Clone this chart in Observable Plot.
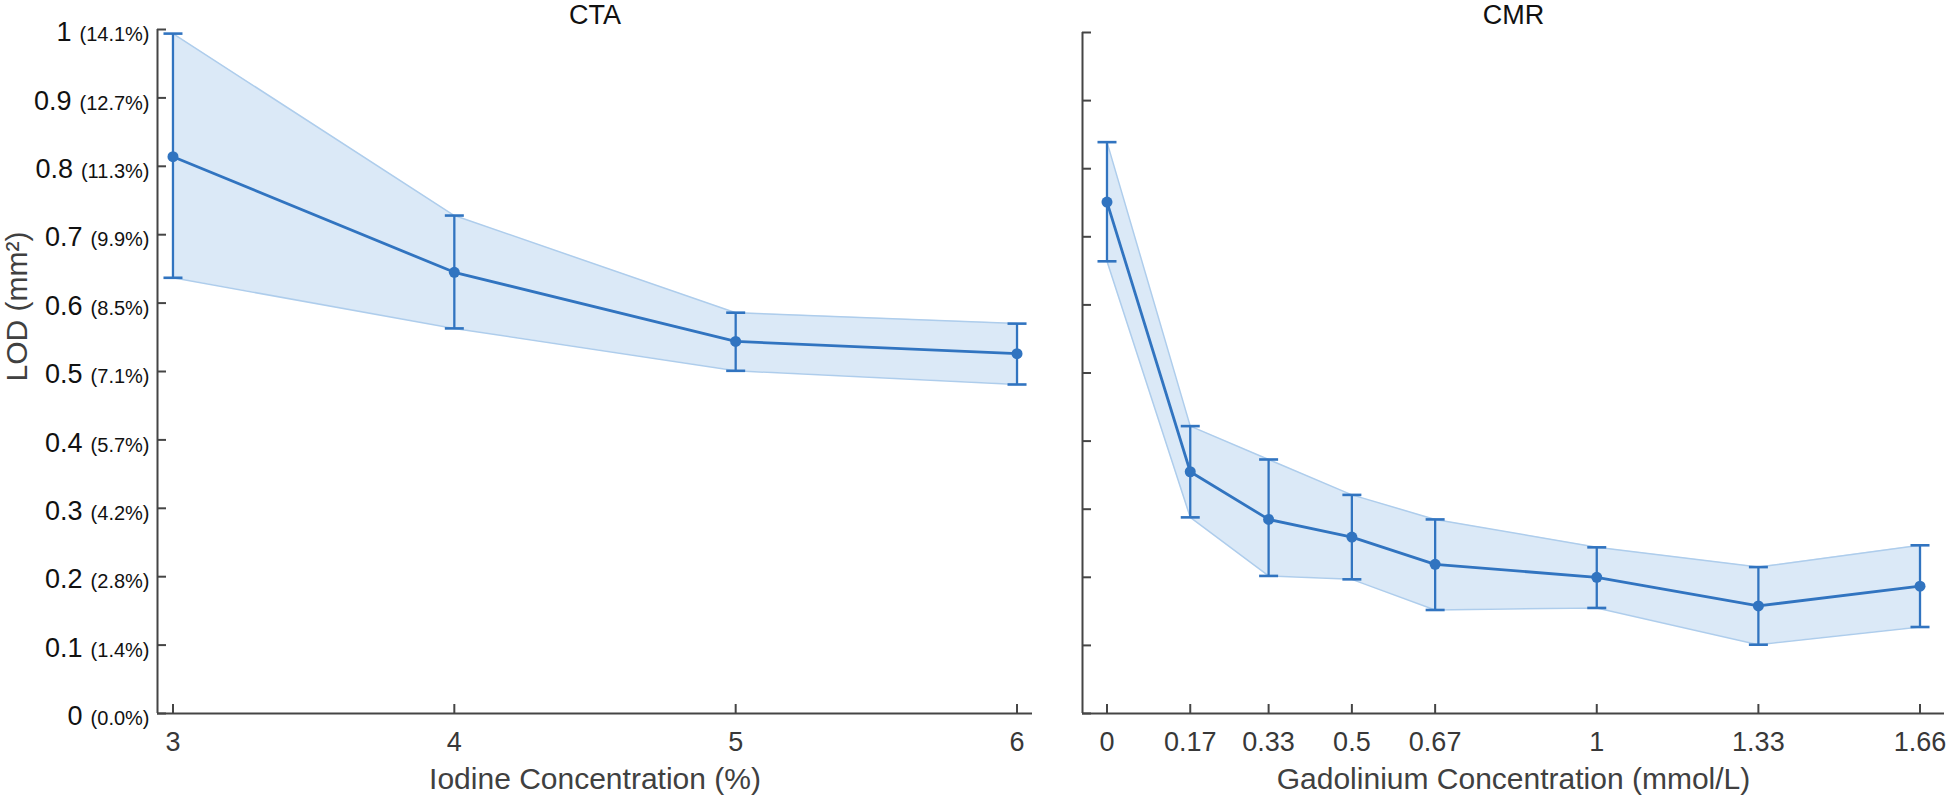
<!DOCTYPE html>
<html><head><meta charset="utf-8">
<script src="https://cdn.jsdelivr.net/npm/d3@7"></script>
<script src="https://cdn.jsdelivr.net/npm/@observablehq/plot@0.6"></script>
<style>
html,body{margin:0;padding:0;background:#fff;}
#wrap{display:flex;width:1946px;height:795px;overflow:hidden;}
#wrap svg{display:block;flex:none;}
</style></head><body><div id="wrap"></div>
<script>
// ---- data ----
const ctaConc  = [3, 4, 5, 6];
const ctaMean  = [0.814, 0.645, 0.544, 0.526];
const ctaUpper = [0.994, 0.728, 0.586, 0.570];
const ctaLower = [0.637, 0.563, 0.501, 0.481];

const cmrConc  = [0, 0.17, 0.33, 0.5, 0.67, 1, 1.33, 1.66];
const cmrMean  = [0.751, 0.355, 0.285, 0.259, 0.219, 0.200, 0.158, 0.187];
const cmrUpper = [0.839, 0.422, 0.373, 0.321, 0.285, 0.244, 0.215, 0.247];
const cmrLower = [0.664, 0.288, 0.202, 0.197, 0.152, 0.155, 0.101, 0.127];

const yTicks      = [0, 0.1, 0.2, 0.3, 0.4, 0.5, 0.6, 0.7, 0.8, 0.9, 1];
const yTickLabels = ["0", "0.1", "0.2", "0.3", "0.4", "0.5", "0.6", "0.7", "0.8", "0.9", "1"];
const yPctLabels  = ["(0.0%)", "(1.4%)", "(2.8%)", "(4.2%)", "(5.7%)", "(7.1%)", "(8.5%)", "(9.9%)", "(11.3%)", "(12.7%)", "(14.1%)"];

const ctaTicks      = [3, 4, 5, 6];
const ctaTickLabels = ["3", "4", "5", "6"];
const cmrTicks      = [0, 0.17, 0.33, 0.5, 0.67, 1, 1.33, 1.66];
const cmrTickLabels = ["0", "0.17", "0.33", "0.5", "0.67", "1", "1.33", "1.66"];

const titles  = ["CTA", "CMR"];
const xLabels = ["Iodine Concentration (%)", "Gadolinium Concentration (mmol/L)"];
const yLabel  = "LOD (mm²)";

// ---- style ----
const blue = "#3174c0";
const bandFill = "#dbe9f7";
const bandEdge = "#aecdec";
const axisColor = "#454545";
const font = "'Liberation Sans', Arial, Helvetica, sans-serif";
const capShape = {draw(context, l) { context.moveTo(0, 0); context.lineTo(0, -l); }};

function panel(o) {
  const rows = o.conc.map((x, i) => ({x, mean: o.mean[i], upper: o.upper[i], lower: o.lower[i]}));
  const marks = [
    Plot.areaY(rows, {x: "x", y1: "lower", y2: "upper", fill: bandFill}),
    Plot.lineY(rows, {x: "x", y: "upper", stroke: bandEdge, strokeWidth: 1.5}),
    Plot.lineY(rows, {x: "x", y: "lower", stroke: bandEdge, strokeWidth: 1.5}),
    Plot.ruleY([0], {stroke: axisColor, strokeWidth: 2}),
    Plot.ruleX([o.xDomain[0]], {stroke: axisColor, strokeWidth: 2}),
    Plot.axisX({ticks: o.xTicks, tickSize: -9, tickFormat: () => "", stroke: axisColor, strokeWidth: 2, label: null}),
    Plot.axisX({ticks: o.xTicks, tickSize: 0, tickPadding: 18, tickFormat: d => o.xTickLabels[o.xTicks.indexOf(d)],
      fontSize: 27, fill: "#383838", label: null}),
    Plot.axisY({ticks: yTicks, tickSize: -9, tickFormat: () => "", stroke: axisColor, strokeWidth: 2, label: null}),
    Plot.ruleX(rows, {x: "x", y1: "lower", y2: "upper", stroke: blue, strokeWidth: 2.3}),
    Plot.vector(rows, {x: "x", y: "upper", length: 19, rotate: 90, anchor: "middle", shape: capShape, stroke: blue, strokeWidth: 2.6, strokeLinecap: "butt"}),
    Plot.vector(rows, {x: "x", y: "lower", length: 19, rotate: 90, anchor: "middle", shape: capShape, stroke: blue, strokeWidth: 2.6, strokeLinecap: "butt"}),
    Plot.lineY(rows, {x: "x", y: "mean", stroke: blue, strokeWidth: 2.8}),
    Plot.dot(rows, {x: "x", y: "mean", r: 5.5, fill: blue}),
    Plot.text([o.title], {text: d => d, frameAnchor: "top", lineAnchor: "bottom", dy: o.titleDy, fontSize: 27, fill: "#111"}),
    Plot.text([o.xLabel], {text: d => d, frameAnchor: "bottom", lineAnchor: "bottom", dy: 75, fontSize: 30, fill: "#404040"})
  ];
  if (o.yLabels) {
    marks.push(Plot.axisY({ticks: yTicks, tickSize: 0, tickPadding: 8,
      tickFormat: d => { const i = yTicks.indexOf(d); return yTickLabels[i] + "|" + yPctLabels[i]; },
      fontSize: 27, fill: "#111", dy: 3, label: null}));
    marks.push(Plot.text([yLabel], {text: d => d, frameAnchor: "left", rotate: -90, lineAnchor: "middle",
      dx: -140, dy: 10, fontSize: 30, fill: "#404040"}));
  }
  const svg = Plot.plot({
    width: o.width, height: 795,
    marginLeft: o.marginLeft, marginRight: o.marginRight, marginTop: o.marginTop, marginBottom: 82,
    x: {domain: o.xDomain},
    y: {domain: [0, 1]},
    style: {fontFamily: font, background: "#fff", overflow: "visible"},
    marks
  });
  if (o.yLabels) {
    d3.select(svg).selectAll('[aria-label="y-axis tick label"] text').each(function () {
      const [a, b] = this.textContent.split("|");
      this.textContent = "";
      d3.select(this).append("tspan").text(a);
      d3.select(this).append("tspan").attr("dx", 8).attr("font-size", 20).text(b);
    });
  }
  return svg;
}

const wrap = document.getElementById("wrap");
wrap.appendChild(panel({
  width: 1060, marginLeft: 157, marginRight: 28, marginTop: 29, titleDy: -6,
  xDomain: [2.945, 6.055], conc: ctaConc, mean: ctaMean, upper: ctaUpper, lower: ctaLower,
  xTicks: ctaTicks, xTickLabels: ctaTickLabels, title: titles[0], xLabel: xLabels[0], yLabels: true
}));
wrap.appendChild(panel({
  width: 886, marginLeft: 22, marginRight: 2, marginTop: 32, titleDy: -9,
  xDomain: [-0.05, 1.71], conc: cmrConc, mean: cmrMean, upper: cmrUpper, lower: cmrLower,
  xTicks: cmrTicks, xTickLabels: cmrTickLabels, title: titles[1], xLabel: xLabels[1], yLabels: false
}));
</script></body></html>
